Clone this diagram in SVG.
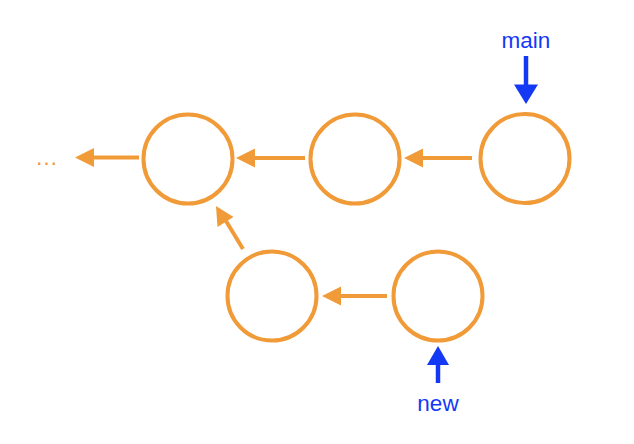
<svg xmlns="http://www.w3.org/2000/svg" width="634" height="444" viewBox="0 0 634 444">
<style>
.n{fill:#fff;stroke:#F19A38;stroke-width:4}
.e{stroke:#F19A38;stroke-width:4;fill:none}
.h{fill:#F19A38}
.b{stroke:#1439F5;stroke-width:4.5;fill:none}
.bh{fill:#1439F5}
.t{font-family:"Liberation Sans",Arial,sans-serif;font-size:22.5px;fill:#1439F5;text-anchor:middle}
.d{font-family:"Liberation Sans",Arial,sans-serif;font-size:23px;fill:#F19A38}
</style>
<rect width="634" height="444" fill="#fff"/>
<g id="c1"><circle class="n" cx="188" cy="159" r="44.5"/></g>
<g id="c2"><circle class="n" cx="355" cy="159" r="44.5"/></g>
<g id="c3"><circle class="n" cx="525" cy="158.5" r="44.5"/></g>
<g id="c4"><circle class="n" cx="272" cy="296" r="44.5"/></g>
<g id="c5"><circle class="n" cx="438" cy="296" r="44.5"/></g>
<g id="ellipsis"><text class="d" x="35" y="165">…</text></g>
<g id="connectors">
<line class="e" x1="139" y1="157.5" x2="90" y2="157.5"/>
<polygon class="h" points="75,157.5 94,148 94,167"/>
<line class="e" x1="305" y1="158" x2="252" y2="158"/>
<polygon class="h" points="236,158 255,148.5 255,167.5"/>
<line class="e" x1="472" y1="158" x2="420" y2="158"/>
<polygon class="h" points="404,158 423,148.5 423,167.5"/>
<line class="e" x1="387" y1="296" x2="338" y2="296"/>
<polygon class="h" points="322,296 341,286.5 341,305.5"/>
<line class="e" x1="243" y1="249" x2="226" y2="221"/>
<polygon class="h" points="216,206 217.5,227 233.5,217"/>
<line class="b" x1="526" y1="56" x2="526" y2="88"/>
<polygon class="bh" points="526,104 514,84.5 538,84.5"/>
<line class="b" x1="438" y1="383" x2="438" y2="362"/>
<polygon class="bh" points="438,346 427,365 449,365"/>
</g>
<g id="lmain"><text class="t" x="526" y="48">main</text></g>
<g id="lnew"><text class="t" x="438" y="411">new</text></g>
</svg>
